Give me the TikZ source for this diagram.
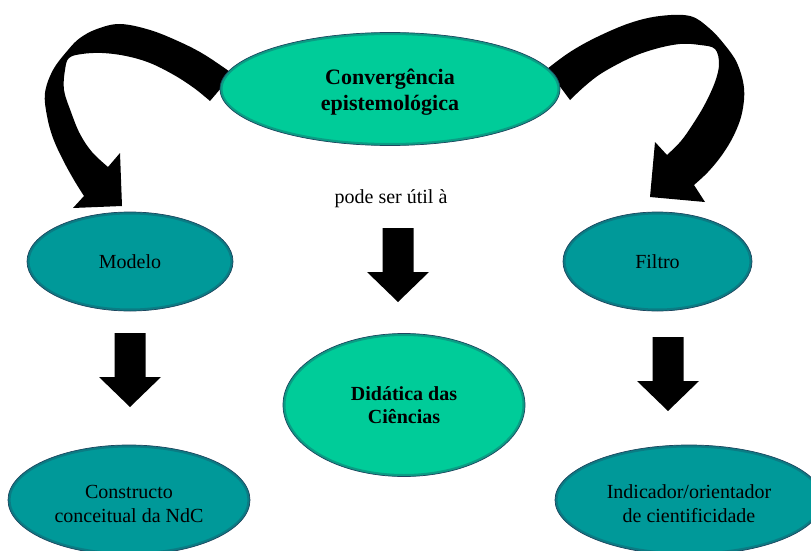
\documentclass[tikz,border=0pt]{standalone}
\usepackage{fontspec}
\setmainfont{Liberation Serif}
\usetikzlibrary{shapes.geometric,calc}

\definecolor{lightteal}{RGB}{0,204,153}
\definecolor{darkteal}{RGB}{0,153,153}
\definecolor{rim}{RGB}{30,70,95}

\tikzset{
  % soft darker band just inside the outline of each ellipse
  innerrim/.style={path picture={
    \path let \p1=(path picture bounding box.north east),
              \p2=(path picture bounding box.center) in
      [draw=rim, line width=5pt, opacity=0.35]
      (\p2) ellipse ({\x1-\x2} and {\y1-\y2});
  }},
  bubble/.style={ellipse, inner sep=0pt, draw=rim, line width=0.7pt, innerrim,
    align=center, font=\fontsize{20}{24}\selectfont},
  lightbubble/.style={bubble, fill=lightteal},
  darkbubble/.style={bubble, fill=darkteal},
  blockarrow/.style={fill=black},
  pics/blockdown/.style={code={
    \fill[blockarrow] (-15.5,0) -- (15.5,0) -- (15.5,44) -- (31,44)
      -- (0,74) -- (-31,44) -- (-15.5,44) -- cycle;
  }}
}

\begin{document}
\begin{tikzpicture}[x=1pt, y=-1pt]
\useasboundingbox (0,0) rectangle (811,551);
\clip (0,0) rectangle (811,551);
\fill[white] (0,0) rectangle (811,551);

% curved arrow on the left, leaving the top ellipse
\fill[blockarrow]
  plot[smooth, tension=0.6] coordinates {(233,74) (205,55) (180,42) (150,30) (120,24)
    (97,29) (80,38) (68,50) (53,70) (45,93) (47,116) (53,138) (63,160) (74,180) (84,196)}
  -- (73,208) -- (122,206) -- (120,153) -- (108,167)
  -- plot[smooth, tension=0.6] coordinates {(108,167) (92,152) (80,134) (71,112) (64,90)
    (65,70) (69,58) (82,54) (102,53) (126,56) (150,63) (174,75) (194,88) (210,101)}
  -- cycle;

% curved arrow on the right, leaving the top ellipse
\fill[blockarrow]
  plot[smooth, tension=0.6] coordinates {(547,69) (570,52) (597,37) (630,23) (660,16)
    (690,16) (709,28) (724,44) (737,63) (744,88) (742,113) (734,135) (722,155) (708,172) (694,185)}
  -- (705,202) -- (650,197) -- (655,142) -- (667,155)
  -- plot[smooth, tension=0.6] coordinates {(667,155) (681,141) (693,124) (705,104) (715,82)
    (719,64) (715,49) (700,45) (680,44) (655,49) (630,58) (602,73) (585,86) (570,100)}
  -- cycle;

% ellipses
\node[lightbubble, minimum width=340pt, minimum height=113pt, text height=47.5pt,
      font=\fontsize{22}{26}\selectfont\bfseries] (conv) at (390,89)
  {Convergência\\epistemológica};
\node[darkbubble, minimum width=206pt, minimum height=99pt] (modelo) at (130,261.5) {Modelo};
\node[darkbubble, minimum width=189pt, minimum height=99pt] (filtro) at (657.5,261.5) {Filtro};
\node[lightbubble, minimum width=242pt, minimum height=143pt,
      font=\fontsize{20}{23}\selectfont\bfseries] (didat) at (404,405)
  {Didática das\\Ciências};
\node[darkbubble, minimum width=242pt, minimum height=110pt, text height=44.8pt]
  (constr) at (129,500) {Constructo\\conceitual da NdC};
\node[darkbubble, minimum width=268pt, minimum height=110pt, text height=44.9pt]
  (indic) at (689,500) {Indicador/orientador\\de cientificidade};

\node[font=\fontsize{20}{24}\selectfont] (util) at (391,199) {pode ser útil à};

% straight block arrows
\pic at (130,333) {blockdown};
\pic at (398,228) {blockdown};
\pic at (668,337) {blockdown};
\end{tikzpicture}
\end{document}
